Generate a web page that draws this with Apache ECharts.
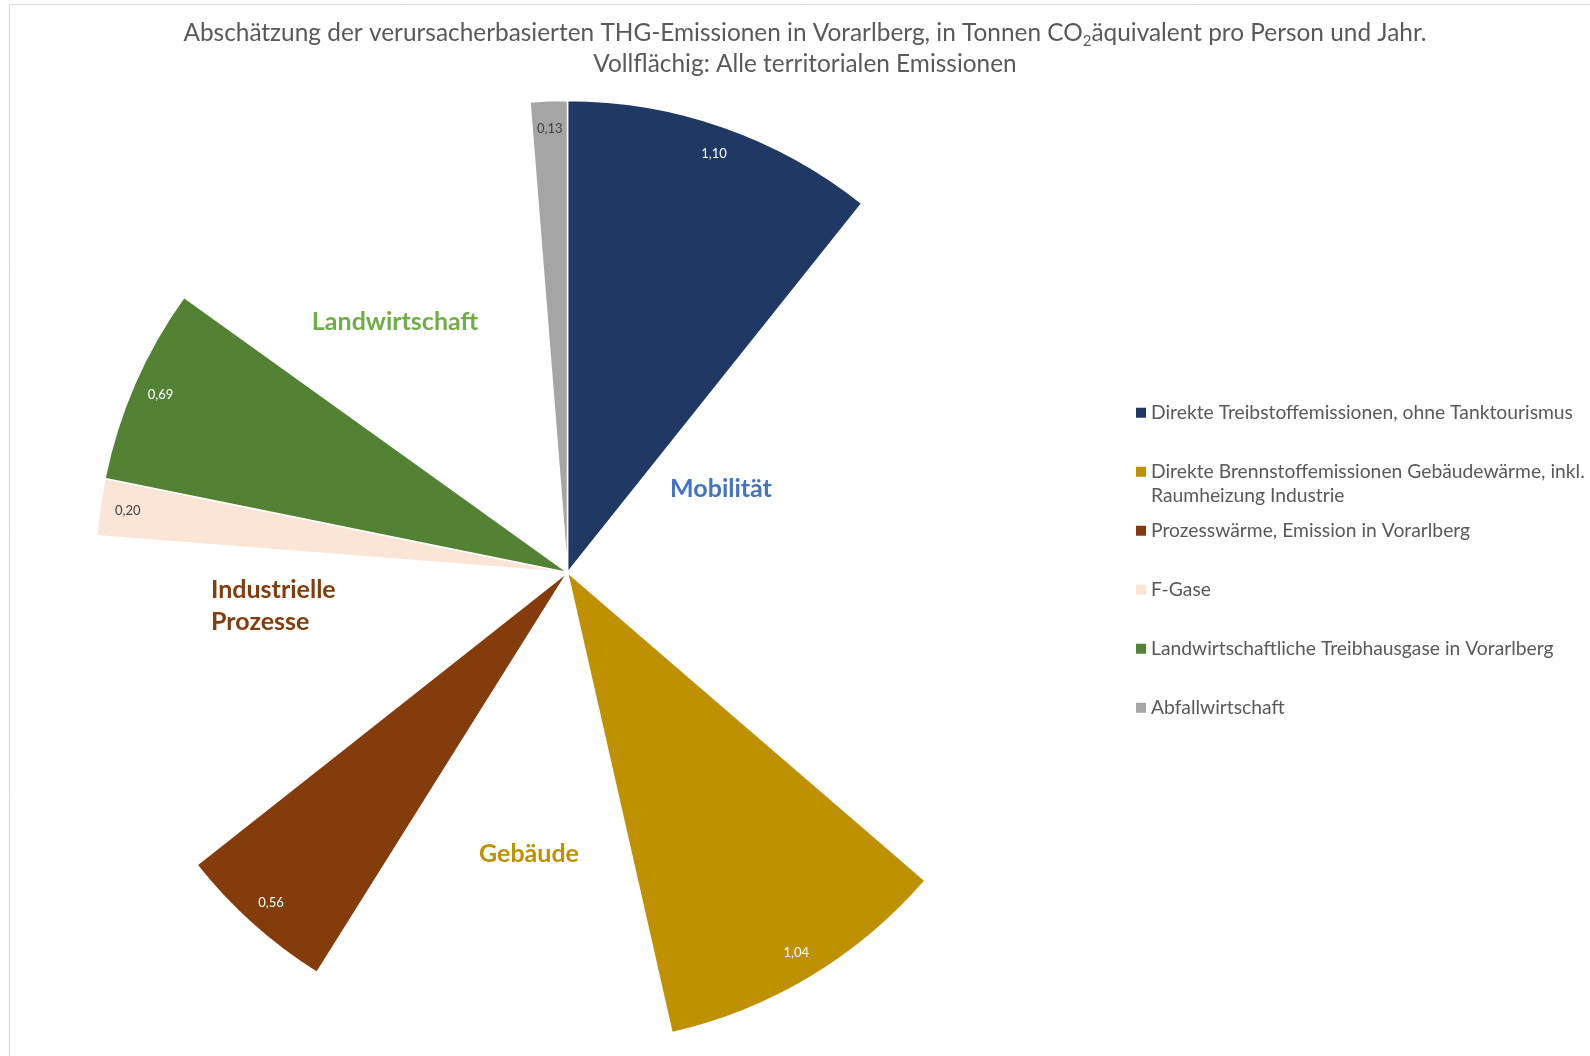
<!DOCTYPE html>
<html>
<head>
<meta charset="utf-8">
<script src="https://cdn.jsdelivr.net/npm/echarts@6/dist/echarts.min.js"></script>
<style>
  html, body { margin: 0; padding: 0; background: #fff; }
  #chart { width: 1590px; height: 1056px; }
</style>
</head>
<body>
<div id="chart"></div>
<script>
// Territorial emissions per sector, t CO2e per person and year
const sectorNames = [
  'Direkte Treibstoffemissionen, ohne Tanktourismus',
  'Direkte Brennstoffemissionen Gebäudewärme, inkl.\nRaumheizung Industrie',
  'Prozesswärme, Emission in Vorarlberg',
  'F-Gase',
  'Landwirtschaftliche Treibhausgase in Vorarlberg',
  'Abfallwirtschaft'
];
const territorialValues = [1.10, 1.04, 0.56, 0.20, 0.69, 0.13];

// Remaining, non-territorial part of each sector group (left unfilled)
const groupNames = ['Mobilität', 'Gebäude', 'Industrielle\nProzesse', 'Landwirtschaft'];
const groupRemainder = [2.63, 1.28, 1.22, 1.42];

// Order of the slices clockwise from 12 o'clock: ['s', sector] or ['g', group]
const sliceOrder = [['s', 0], ['g', 0], ['s', 1], ['g', 1], ['s', 2], ['g', 2], ['s', 3], ['s', 4], ['g', 3], ['s', 5]];

// ---- styling ----
const sectorColors = ['#203864', '#BF9000', '#843C0C', '#FBE5D6', '#548235', '#A5A5A5'];
const sectorLabelColors = ['#ffffff', '#ffffff', '#ffffff', '#404040', '#ffffff', '#404040'];
const groupColors = ['#4472C4', '#BF9000', '#843C0C', '#70AD47'];
const groupLabelPlace = [
  { x: 721, y: 489, align: 'center' },
  { x: 529, y: 854, align: 'center' },
  { x: 211, y: 606, align: 'left' },
  { x: 395, y: 322, align: 'center' }
];
const FONT = 'Lato, "Open Sans", sans-serif';
const TEXT = '#595959';
const CENTER = [567.5, 572.5];
const R = 472;

const fillData = sliceOrder.map(([kind, i]) => kind === 's'
  ? {
      name: sectorNames[i], value: territorialValues[i],
      itemStyle: { color: sectorColors[i], borderColor: '#ffffff', borderWidth: 1.5 },
      label: { show: false }
    }
  : {
      name: groupNames[i], value: groupRemainder[i],
      itemStyle: { color: 'rgba(0,0,0,0)', borderWidth: 0 },
      label: { show: true, color: groupColors[i] }
    });

const valueLabelData = sliceOrder.map(([kind, i]) => kind === 's'
  ? {
      name: sectorNames[i], value: territorialValues[i],
      label: { show: true, color: sectorLabelColors[i] }
    }
  : {
      name: groupNames[i], value: groupRemainder[i],
      label: { show: false }
    });

const groupOfSlice = sliceOrder.map(([kind, i]) => kind === 'g' ? i : null);

const chart = echarts.init(document.getElementById('chart'), null, { renderer: 'canvas' });
chart.setOption({
  animation: false,
  backgroundColor: '#ffffff',
  title: {
    text: '{t|Abschätzung der verursacherbasierten THG-Emissionen in Vorarlberg, in Tonnen CO}{s|2}{t|äquivalent pro Person und Jahr.}\n{t|Vollflächig: Alle territorialen Emissionen}',
    left: 805,
    top: 18,
    padding: 0,
    textAlign: 'center',
    textStyle: {
      fontWeight: 'normal',
      rich: {
        t: { fontFamily: FONT, fontSize: 24.4, fontWeight: 'normal', color: TEXT, lineHeight: 31 },
        s: { fontFamily: FONT, fontSize: 15, fontWeight: 'normal', color: TEXT, lineHeight: 20, verticalAlign: 'bottom' }
      }
    }
  },
  legend: {
    orient: 'vertical',
    left: 1136,
    top: 376,
    padding: 0,
    itemGap: -14.5,
    itemWidth: 10,
    itemHeight: 10,
    icon: 'rect',
    selectedMode: false,
    data: sectorNames,
    itemStyle: { borderWidth: 0 },
    formatter: n => ' \n' + n + (n.indexOf('\n') >= 0 ? '' : '\n '),
    textStyle: { fontFamily: FONT, fontSize: 19.3, color: TEXT, lineHeight: 24.5 }
  },
  graphic: [{
    type: 'rect',
    silent: true,
    shape: { x: 9.5, y: 4.5, width: 1700, height: 1200 },
    style: { fill: 'none', stroke: '#d9d9d9', lineWidth: 1 }
  }],
  series: [
    {
      type: 'pie',
      center: CENTER,
      radius: [0, R],
      startAngle: 90,
      clockwise: true,
      avoidLabelOverlap: false,
      silent: true,
      emphasis: { disabled: true },
      labelLine: { show: false },
      label: {
        position: 'inside',
        formatter: p => p.name,
        fontFamily: FONT,
        fontWeight: 'bold',
        fontSize: 25,
        lineHeight: 32
      },
      labelLayout: p => {
        const g = groupOfSlice[p.dataIndex];
        if (g == null) return {};
        const place = groupLabelPlace[g];
        return { x: place.x, y: place.y, align: place.align, verticalAlign: 'middle' };
      },
      data: fillData
    },
    {
      type: 'pie',
      center: CENTER,
      radius: [R - 62, R],
      startAngle: 90,
      clockwise: true,
      avoidLabelOverlap: false,
      silent: true,
      emphasis: { disabled: true },
      labelLine: { show: false },
      itemStyle: { color: 'rgba(0,0,0,0)', borderWidth: 0 },
      label: {
        position: 'inside',
        formatter: p => p.value.toFixed(2).replace('.', ','),
        fontFamily: FONT,
        fontSize: 13
      },
      data: valueLabelData
    }
  ]
});
</script>
</body>
</html>
